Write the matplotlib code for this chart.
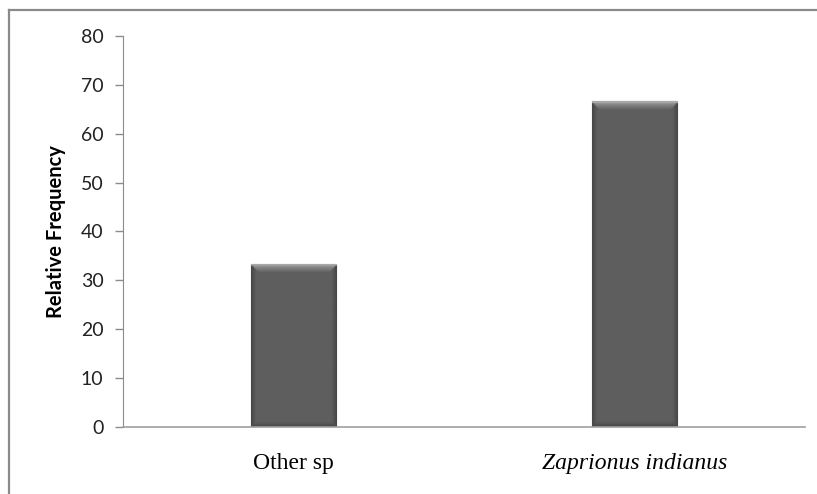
import numpy as np
import matplotlib
matplotlib.use('Agg')
import matplotlib.pyplot as plt
from matplotlib.lines import Line2D

# Data
categories = ['Other sp', 'Zaprionus indianus']
frequency = [33.3, 66.7]
yticks = [0, 10, 20, 30, 40, 50, 60, 70, 80]

W, H = 817, 494
fig = plt.figure(figsize=(W / 100, H / 100), dpi=100)
ax = fig.add_axes([123 / W, 1 - 427 / H, (805 - 123) / W, (427 - 36) / H])

x = np.arange(len(categories))
bars = ax.bar(x, frequency, width=0.25, color='#5a5a5a', edgecolor='#3e3e3e', linewidth=0.8, zorder=2)

# bevel-like shading on each bar
ax.set_xlim(-0.5, 1.5)
ax.set_ylim(0, 80)
px_x = 2.0 / (805 - 123)     # data units per pixel, x
px_y = 80.0 / (427 - 36)     # data units per pixel, y
for b in bars:
    x0, y0 = b.get_x(), b.get_y()
    w, h = b.get_width(), b.get_height()
    ny, nx = 300, 120
    yy = np.linspace(h, 0, ny)[:, None]
    xx = np.linspace(0, w, nx)[None, :]
    dl = xx / px_x
    dr = (w - xx) / px_x
    dt = (h - yy) / px_y
    db = yy / px_y
    img = np.full((ny, nx), 0.37)
    side = np.minimum(dl, dr)
    img = np.where(side < 5, 0.28 + 0.018 * side, img)
    img = np.where(db < 5, np.minimum(img, 0.28 + 0.018 * db), img)
    top = (dt < 8) & (dt < side + 0.5)
    img = np.where(top, 0.62 - 0.03 * dt, img)
    img = np.where(dt < 1.5, 0.66, img)
    im = ax.imshow(img, cmap='gray', vmin=0, vmax=1, extent=[x0, x0 + w, y0, y0 + h],
                   aspect='auto', interpolation='bilinear', zorder=2.5)
    im.set_clip_path(b)

ax.set_xticks(x)
ax.set_xticklabels(categories, fontsize=17, family='Liberation Serif')
ax.get_xticklabels()[1].set_style('italic')
ax.tick_params(axis='x', length=0, pad=19)

ax.set_yticks(yticks)
ax.set_yticklabels([str(t) for t in yticks], fontsize=14, family='Lato', color='#222222')
ax.tick_params(axis='y', length=6, width=1, color='#8c8c8c', pad=8)

ax.set_ylabel('Relative Frequency', fontsize=14.5, fontweight='bold', family='Lato', labelpad=11)

for s in ['top', 'right']:
    ax.spines[s].set_visible(False)
ax.spines['left'].set_color('#8c8c8c')
ax.spines['bottom'].set_color('#a0a0a0')
ax.spines['bottom'].set_linewidth(1.2)

# outer chart border (cropped on right and bottom)
fig.add_artist(Line2D([8.5 / W, 8.5 / W], [0, 1 - 10 / H], color='#8a8a8a', lw=1.6))
fig.add_artist(Line2D([8.5 / W, 1], [1 - 10 / H, 1 - 10 / H], color='#8a8a8a', lw=1.6))

fig.savefig('out.png', dpi=100)
